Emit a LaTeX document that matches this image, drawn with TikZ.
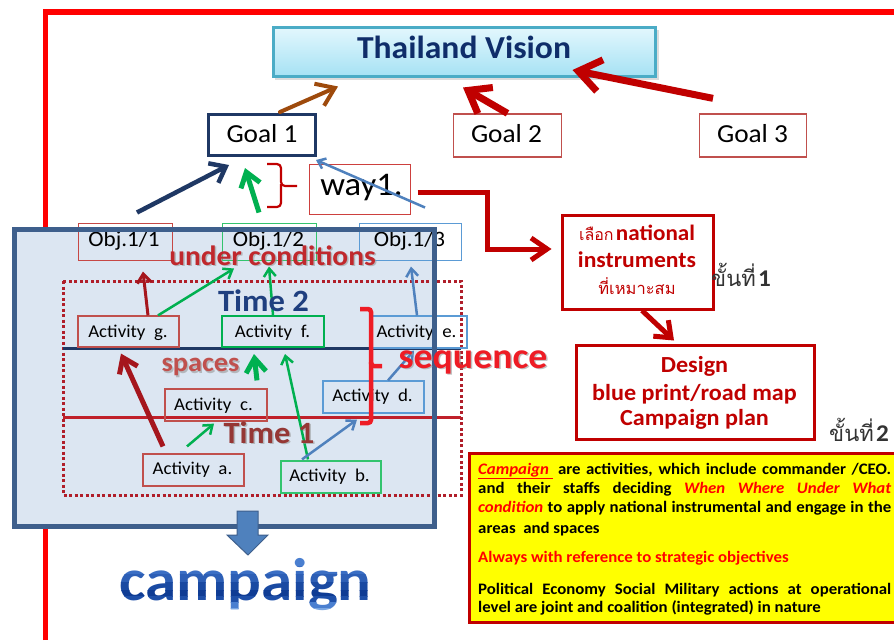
\documentclass[tikz,border=0pt]{standalone}
\usepackage{fontspec}
\setmainfont[FakeStretch=1.05]{Carlito}
\newfontfamily\thaifont[Script=Thai]{Loma}
\usetikzlibrary{arrows.meta,calc}
\definecolor{frameRed}{HTML}{FF0000}
\definecolor{visT}{HTML}{E3F7FD}
\definecolor{visB}{HTML}{A6E2F4}
\definecolor{visBorder}{HTML}{4BACC6}
\definecolor{navy}{HTML}{1F3864}
\definecolor{visText}{HTML}{0F2D69}
\definecolor{boxRed}{HTML}{C0504D}
\definecolor{darkRed}{HTML}{C00000}
\definecolor{brownA}{HTML}{9E4A0C}
\definecolor{greenA}{HTML}{00B050}
\definecolor{greenBox}{HTML}{33C46E}
\definecolor{blueA}{HTML}{4F81BD}
\definecolor{blueBox}{HTML}{5B9BD5}
\definecolor{panelFill}{HTML}{DCE6F2}
\definecolor{panelBorder}{HTML}{3E5F8C}
\definecolor{maroonA}{HTML}{A5161D}
\definecolor{dotRed}{HTML}{B01E2A}
\definecolor{lineRed}{HTML}{C0202A}
\definecolor{condRed}{HTML}{C0282D}
\definecolor{time1C}{HTML}{953735}
\definecolor{time2C}{HTML}{1F3F7F}
\definecolor{seqRed}{HTML}{EE1C25}
\definecolor{cs1}{HTML}{4A7FD0}
\definecolor{cs2}{HTML}{3A6EC4}
\definecolor{cs3}{HTML}{2D5FB6}
\definecolor{cs4}{HTML}{1A4AA2}
\definecolor{cs5}{HTML}{0F3C94}
\definecolor{cs6}{HTML}{1E4FA8}
\definecolor{cs7}{HTML}{4A7FD0}
\definecolor{cs8}{HTML}{7AA6E2}
\definecolor{cs9}{HTML}{9CC0EE}
\definecolor{yel}{HTML}{FFFF00}
\definecolor{stepGray}{HTML}{333333}
\begin{document}
\begin{tikzpicture}[x=1pt,y=-1pt,
  txt/.style={inner sep=0pt, anchor=base},
  plainbox/.style={inner sep=0pt},
  shadowtxt/.style={inner sep=0pt, anchor=base, text=black!40, opacity=0.6},
  thinarrow/.style={line width=2.5pt, -{Straight Barb[length=8pt,width=12pt]}},
  ytxt/.style={inner sep=0pt, anchor=base west, font=\fontsize{16}{19}\selectfont\bfseries}
]
\useasboundingbox (0,0) rectangle (894,640);
\clip (0,0) rectangle (894,640);
\fill[white] (0,0) rectangle (894,640);

% red frame
\draw[frameRed, line width=4.5pt] (45.5,640) -- (45.5,12);
\draw[frameRed, line width=6pt] (43,12) -- (900,12);

% vision
\fill[black!30, opacity=.45] (275,30) rectangle (659,80);
\node[draw=visBorder, line width=3pt, top color=visT, bottom color=visB, minimum width=382pt, minimum height=49pt, plainbox] (vision) at (464,51.5) {};
\node[txt, font=\fontsize{32}{36}\selectfont\bfseries, text=visText] (visiont) at (464,58) {Thailand Vision};

% goals
\node[draw=navy, line width=3pt, minimum width=107pt, minimum height=41pt, plainbox] (goal1) at (262,135) {};
\node[txt, font=\fontsize{26}{30}\selectfont] (goal1t) at (262,142) {Goal 1};
\node[draw=boxRed, line width=1.3pt, minimum width=108pt, minimum height=43pt, plainbox] (goal2) at (507.5,135.5) {};
\node[txt, font=\fontsize{26}{30}\selectfont] (goal2t) at (506.5,142) {Goal 2};
\node[draw=boxRed, line width=1.3pt, minimum width=107pt, minimum height=43pt, plainbox] (goal3) at (753,135.5) {};
\node[txt, font=\fontsize{26}{30}\selectfont] (goal3t) at (752.5,142) {Goal 3};

% way1
\node[draw=boxRed!80!red, line width=1pt, minimum width=101pt, minimum height=50pt, plainbox] (way1) at (359.5,189) {};
\node[txt, font=\fontsize{33}{36}\selectfont] (way1t) at (361.5,195) {way1.};

% top arrows
\draw[brownA, line width=4pt, line cap=round, -{Straight Barb[length=17pt,width=24pt]}] ($(goal1.north)+(18,-1)$) -- ($(vision.south)+(-126,9)$);
\draw[darkRed, line width=7pt, -{Straight Barb[length=20pt,width=30pt]}] ($(goal2.north)+(0,0)$) -- ($(vision.south)+(-1,10)$);
\draw[darkRed, line width=7pt, -{Straight Barb[length=22pt,width=32pt]}] ($(goal3.north)+(-40,-15)$) -- ($(vision.east)+(-84,18.5)$);

% way1 brace
\draw[darkRed, line width=2.2pt, rounded corners=4pt] (267,164) -- (281,164) -- (281,186) -- (297,186);
\draw[darkRed, line width=2.2pt, rounded corners=4pt] (281,184) -- (281,207) -- (267,207);

% panel fill
\fill[panelFill] (14.5,229.5) rectangle (434.5,526.5);

% dotted region & time lines
\draw[dotRed, line width=3pt, dash pattern=on 3pt off 2.5pt] (63,281) rectangle (461,495);
\draw[navy, line width=3pt] (63,348) -- (461,348);
\draw[lineRed, line width=3pt] (63,417) -- (461,417);

% objectives
\node[draw=boxRed!90!red, line width=1pt, minimum width=94pt, minimum height=37pt, plainbox] (obj1) at (125,241.5) {};
\node[txt, font=\fontsize{22}{26}\selectfont] (obj1t) at (124,246) {Obj.1/1};
\node[draw=greenBox, line width=1pt, minimum width=94pt, minimum height=37pt, plainbox] (obj2) at (269,241.5) {};
\node[txt, font=\fontsize{22}{26}\selectfont] (obj2t) at (268.5,246) {Obj.1/2};
\node[draw=blueBox, line width=1pt, minimum width=102pt, minimum height=37pt, plainbox] (obj3) at (410,241.5) {};
\node[txt, font=\fontsize{22}{26}\selectfont] (obj3t) at (409.5,246) {Obj.1/3};

% activities
\node[draw=boxRed, line width=1.2pt, minimum width=101pt, minimum height=31pt, plainbox] (actg) at (128.5,331.5) {};
\node[txt, font=\fontsize{18}{21}\selectfont] (actgt) at (128,337) {Activity\ \ g.};
\node[draw=greenA, line width=2pt, minimum width=102pt, minimum height=31pt, plainbox] (actf) at (273,331.5) {};
\node[txt, font=\fontsize{18}{21}\selectfont] (actft) at (272.5,337) {Activity\ \ f.};
\node[draw=blueBox, line width=1.2pt, minimum width=97pt, minimum height=32pt, plainbox] (acte) at (418.5,332) {};
\node[txt, font=\fontsize{18}{21}\selectfont] (actet) at (416.5,337) {Activity\ \ e.};
\node[draw=boxRed, line width=1.2pt, minimum width=102pt, minimum height=32pt, plainbox] (actc) at (216,405) {};
\node[txt, font=\fontsize{18}{21}\selectfont] (actct) at (213.5,410) {Activity\ \ c.};
\node[draw=blueBox, line width=1.2pt, minimum width=101pt, minimum height=32pt, plainbox] (actd) at (373.5,397) {};
\node[txt, font=\fontsize{18}{21}\selectfont] (actdt) at (372.5,401) {Activity\ \ d.};
\node[draw=boxRed, line width=1.2pt, minimum width=101pt, minimum height=32pt, plainbox] (acta) at (193.5,470) {};
\node[txt, font=\fontsize{18}{21}\selectfont] (actat) at (192.5,474) {Activity\ \ a.};
\node[draw=greenBox, line width=1.2pt, minimum width=100pt, minimum height=32pt, plainbox] (actb) at (331,477) {};
\node[txt, font=\fontsize{18}{21}\selectfont] (actbt) at (329.5,481) {Activity\ \ b.};

% arrows objectives -> goal
\draw[navy, line width=4.5pt, -{Straight Barb[length=14pt,width=22pt]}] ($(obj1.north)+(12,-10)$) -- ($(goal1.south)+(-33,8)$);
\draw[greenA, line width=5pt, -{Straight Barb[length=14pt,width=20pt]}] ($(obj2.north)+(-10,-10)$) -- ($(goal1.south)+(-17,11)$);
\draw[blueA, line width=2.5pt, -{Straight Barb[length=7pt,width=11pt]}] ($(obj3.north)+(15,-15)$) -- ($(goal1.south east)+(-1,3)$);

% arrows in panel
\draw[maroonA, line width=3pt, -{Straight Barb[length=9pt,width=14pt]}] ($(actg.north)+(19.5,0)$) -- ($(obj1.south)+(18,11)$);
\draw[greenA, thinarrow] ($(actg.north)+(29.5,0)$) -- ($(obj2.south)+(-35,8)$);
\draw[greenA, thinarrow] ($(actf.north)+(0,0)$) -- ($(obj2.south)+(0,6)$);
\draw[blueA, thinarrow] ($(acte.north)+(-1.5,0)$) -- ($(obj3.south)+(1,6)$);
\draw[maroonA, line width=5pt, -{Straight Barb[length=14pt,width=20pt]}] ($(acta.north)+(-30.5,-7)$) -- ($(actg.south)+(-7.5,6)$);
\draw[greenA, line width=5pt, -{Straight Barb[length=14pt,width=20pt]}] ($(actc.north)+(41,-8)$) -- ($(actf.south)+(-19,6)$);
\draw[greenA, thinarrow] ($(acta.north)+(-6.5,-7)$) -- ($(actc.south)+(-2,2)$);
\draw[greenA, thinarrow] ($(actb.north)+(-23,-1)$) -- ($(actf.south)+(12,6)$);
\draw[blueA, thinarrow] ($(actb.north)+(-29,-1)$) -- ($(actd.south)+(-16.5,6)$);
\draw[blueA, thinarrow] ($(actd.north)+(14.5,0)$) -- ($(acte.south)+(-4.5,2)$);

% panel texts
\node[shadowtxt, font=\fontsize{28}{32}\selectfont\bfseries] (condsh) at (274,266.5) {under conditions};
\node[txt, font=\fontsize{28}{32}\selectfont\bfseries, text=condRed] (cond) at (272.5,265) {under conditions};
\node[txt, font=\fontsize{31}{34}\selectfont\bfseries, text=time2C] (time2) at (263.5,311.5) {Time 2};
\node[shadowtxt, font=\fontsize{27}{30}\selectfont\bfseries] (spacesh) at (202,373) {spaces};
\node[txt, font=\fontsize{27}{30}\selectfont\bfseries, text=boxRed] (spaces) at (200.5,371.5) {spaces};
\node[shadowtxt, font=\fontsize{31}{34}\selectfont\bfseries] (time1sh) at (270.5,444.5) {Time 1};
\node[txt, font=\fontsize{31}{34}\selectfont\bfseries, text=time1C] (time1) at (269,443) {Time 1};

% sequence brace
\draw[seqRed, line width=4.5pt, rounded corners=3pt] (360,309) -- (371,309) -- (371,366) -- (382,366);
\draw[seqRed, line width=4.5pt, rounded corners=3pt] (371,362) -- (371,423) -- (360,423);

% panel border
\draw[panelBorder, line width=5pt] (14.5,229.5) rectangle (434.5,526.5);

\node[shadowtxt, font=\fontsize{36}{40}\selectfont\bfseries] (seqsh) at (474.5,369.5) {sequence};
\node[txt, font=\fontsize{36}{40}\selectfont\bfseries, text=seqRed] (seq) at (473,368) {sequence};

% block arrow and campaign (vertical colour gradient by strips)
\filldraw[fill=blueA, draw=panelBorder, line width=1pt] (237,511) -- (258,511) -- (258,535) -- (268,535) -- (248,555) -- (227,535) -- (237,535) -- cycle;
\foreach \ya/\yb/\cc [count=\k] in {540/566/cs1, 566/574/cs2, 574/582/cs3, 582/590/cs4, 590/596/cs5, 596/602/cs6, 602/608/cs7, 608/614/cs8, 614/640/cs9}{
  \begin{scope}
    \clip (100,\ya) rectangle (400,\yb);
    \node[txt, font=\fontsize{60}{66}\selectfont\bfseries, text=\cc] (campaign\k) at (245.5,600) {campaign};
  \end{scope}
}

% right side: national instruments
\node[draw=darkRed, line width=3pt, minimum width=151pt, minimum height=94pt, plainbox] (national) at (637.5,262) {};
\node[txt, text=darkRed] (nat1) at (637,240) {{\thaifont\fontsize{16}{20}\selectfont เลือก} {\fontsize{22}{26}\selectfont\bfseries national}};
\node[txt, text=darkRed, font=\fontsize{22.5}{26}\selectfont\bfseries] (nat2) at (637,267) {instruments};
\node[txt, text=darkRed, font=\thaifont\fontsize{16.5}{20}\selectfont] (nat3) at (637,294) {ที่เหมาะสม};

\draw[darkRed, line width=5pt, -{Straight Barb[length=16pt,width=22pt]}] ($(way1.east)+(7,3)$) -- ++(70,0) -- ++(0,57) -- ($(national.west)+(-9,-13)$);

\node[txt, anchor=base west, text=stepGray] (step1) at (711,286) {{\thaifont\fontsize{22}{26}\selectfont ขั้นที่} {\fontsize{24}{28}\selectfont\bfseries 1}};

% design
\node[draw=darkRed, line width=3pt, minimum width=238pt, minimum height=94pt, plainbox] (design) at (695,392) {};
\node[txt, text=darkRed, font=\fontsize{23}{26}\selectfont\bfseries] (des1) at (694.5,372) {Design};
\node[txt, text=darkRed, font=\fontsize{23}{26}\selectfont\bfseries] (des2) at (694.5,400) {blue print/road map};
\node[txt, text=darkRed, font=\fontsize{23}{26}\selectfont\bfseries] (des3) at (694.5,425.5) {Campaign plan};
\draw[darkRed, line width=5pt, -{Straight Barb[length=14pt,width=22pt]}] ($(national.south)+(4.5,0)$) -- ($(design.north)+(-21,-3)$);

\node[txt, anchor=base west, text=stepGray] (step2) at (829,441) {{\thaifont\fontsize{22}{26}\selectfont ขั้นที่} {\fontsize{24}{28}\selectfont\bfseries 2}};

% yellow box
\node[draw=darkRed, fill=yel, line width=3pt, minimum width=431pt, minimum height=169pt, plainbox] (yellow) at (685,538) {};
\node[ytxt] (y1) at (478,474) {\makebox[413pt][s]{\textcolor{red}{\itshape\underline{Campaign\ }} are activities, which include commander /CEO.}};
\node[ytxt] (y2) at (478,493) {\makebox[413pt][s]{and their staffs deciding \textcolor{red}{\itshape When Where Under What}}};
\node[ytxt] (y3) at (478,512) {\makebox[413pt][s]{\textcolor{red}{\itshape condition} to apply national instrumental and engage in the}};
\node[ytxt] (y4) at (478,533.5) {areas\ \ and spaces};
\node[ytxt, text=red] (y5) at (478,562) {Always with reference to strategic objectives};
\node[ytxt] (y6) at (478,594) {\makebox[413pt][s]{Political Economy Social Military actions at operational}};
\node[ytxt] (y7) at (478,612.5) {level are joint and coalition (integrated) in nature};
\end{tikzpicture}
\end{document}
